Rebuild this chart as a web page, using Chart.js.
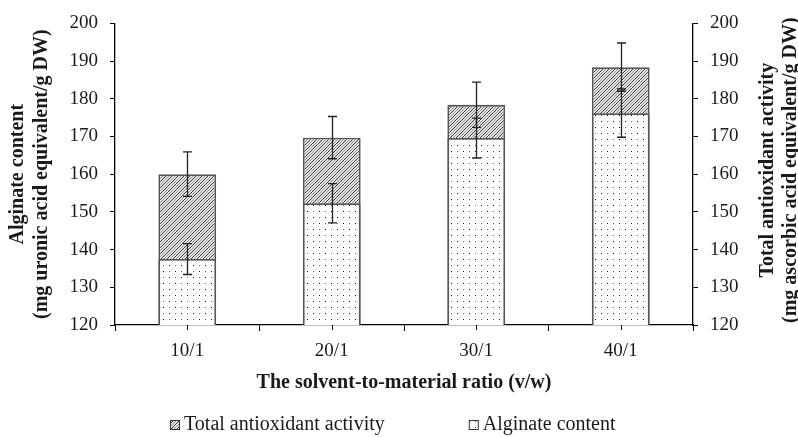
<!DOCTYPE html>
<html>
<head>
<meta charset="utf-8">
<script src="https://cdn.jsdelivr.net/npm/chart.js@4.4.0/dist/chart.umd.min.js"></script>
<style>
  html, body { margin: 0; padding: 0; background: #fff; }
</style>
</head>
<body>
<canvas id="chart" width="798" height="437"></canvas>
<script>
const ratios = ['10/1', '20/1', '30/1', '40/1'];
const alginate = [137.5, 152.3, 169.6, 176.2];
const alginateErr = [4.1, 5.2, 5.3, 6.4];
const antioxidant = [160.0, 169.7, 178.4, 188.4];
const antioxidantErr = [5.9, 5.6, 6.0, 6.4];
const yMin = 120, yMax = 200;

const serif = 'Liberation Serif';

// fill patterns like the excel ones
function makeTile(size, paint) {
  const c = document.createElement('canvas');
  c.width = size; c.height = size;
  const g = c.getContext('2d');
  const img = g.createImageData(size, size);
  for (let y = 0; y < size; y++) {
    for (let x = 0; x < size; x++) {
      const v = paint(x, y);
      const k = (y * size + x) * 4;
      img.data[k] = v; img.data[k + 1] = v; img.data[k + 2] = v; img.data[k + 3] = 255;
    }
  }
  g.putImageData(img, 0, 0);
  return g.createPattern(c, 'repeat');
}
const hatch = makeTile(6, (x, y) => {
  const d = (x + y) % 6;
  if (d === 5) return 50;
  if (d === 2) return 140;
  return 232;
});
const dots = makeTile(12, (x, y) => {
  if ((x === 1 && y === 1) || (x === 7 && y === 7)) return 10;
  if ((x === 7 && y === 1) || (x === 1 && y === 7)) return 110;
  return 255;
});

const extras = {
  id: 'extras',
  afterDatasetsDraw(chart) {
    const ctx = chart.ctx;
    const xs = chart.scales.x;
    ctx.save();
    ctx.strokeStyle = '#000';
    ctx.lineWidth = 1;
    // small ticks under each category
    ratios.forEach((r, i) => {
      const px = Math.round(xs.getPixelForValue(i)) + 0.5;
      ctx.beginPath();
      ctx.moveTo(px, xs.top);
      ctx.lineTo(px, xs.top + 5);
      ctx.stroke();
    });
    // error bars
    ctx.strokeStyle = '#222';
    ctx.lineWidth = 1.3;
    chart.data.datasets.forEach((ds, di) => {
      const meta = chart.getDatasetMeta(di);
      const ys = chart.scales[meta.yAxisID];
      meta.data.forEach((bar, i) => {
        const v = ds.data[i], e = ds.errors[i];
        const t = ys.getPixelForValue(v + e);
        const b = ys.getPixelForValue(v - e);
        const px = Math.round(bar.x) + 0.5;
        ctx.beginPath();
        ctx.moveTo(px, t); ctx.lineTo(px, b);
        ctx.moveTo(px - 4.5, t); ctx.lineTo(px + 4.5, t);
        ctx.moveTo(px - 4.5, b); ctx.lineTo(px + 4.5, b);
        ctx.stroke();
      });
    });
    ctx.restore();
  },
  afterDraw(chart) {
    const ctx = chart.ctx;
    const area = chart.chartArea;
    ctx.save();
    ctx.fillStyle = '#1a1a1a';
    // right axis title, reads bottom to top
    ctx.font = 'bold 20px "' + serif + '"';
    ctx.textAlign = 'center';
    ctx.textBaseline = 'middle';
    const cy = (area.top + area.bottom) / 2 - 4;
    [['Total antioxidant activity', 768], ['(mg ascorbic acid equivalent/g DW)', 791]].forEach(([txt, cx]) => {
      ctx.save();
      ctx.translate(cx, cy);
      ctx.rotate(-Math.PI / 2);
      ctx.fillText(txt, 0, 0);
      ctx.restore();
    });
    // legend
    ctx.font = '20px "' + serif + '"';
    ctx.textAlign = 'left';
    const items = [chart.data.datasets[0], chart.data.datasets[1]];
    const box = 10, gapIn = 4, gapOut = 84;
    let x = 170;
    const ly = 425;
    items.forEach(ds => {
      ctx.fillStyle = ds.backgroundColor;
      ctx.fillRect(x, ly - box / 2, box, box);
      ctx.strokeStyle = '#333';
      ctx.lineWidth = 1;
      ctx.strokeRect(x + 0.5, ly - box / 2 + 0.5, box - 1, box - 1);
      ctx.fillStyle = '#1a1a1a';
      ctx.fillText(ds.label, x + box + gapIn, ly);
      x += box + gapIn + ctx.measureText(ds.label).width + gapOut;
    });
    ctx.restore();
  }
};

new Chart(document.getElementById('chart'), {
  type: 'bar',
  data: {
    labels: ratios,
    datasets: [{
      label: 'Total antioxidant activity',
      data: antioxidant,
      errors: antioxidantErr,
      yAxisID: 'y2',
      backgroundColor: hatch,
      borderColor: '#555',
      borderWidth: 1.8,
      grouped: false,
      order: 2
    }, {
      label: 'Alginate content',
      data: alginate,
      errors: alginateErr,
      yAxisID: 'y',
      backgroundColor: dots,
      borderColor: '#555',
      borderWidth: 1.8,
      grouped: false,
      order: 1
    }]
  },
  options: {
    responsive: false,
    animation: false,
    layout: { padding: { top: 17, bottom: 40, left: 0, right: 0 } },
    datasets: { bar: { categoryPercentage: 1, barPercentage: 0.4 } },
    plugins: { legend: { display: false }, tooltip: { enabled: false } },
    scales: {
      x: {
        offset: true,
        grid: { offset: true, drawOnChartArea: false, color: '#000', tickLength: 6 },
        border: { color: '#000', width: 1.3 },
        ticks: { color: '#1a1a1a', font: { family: serif, size: 19 }, padding: 9 },
        title: {
          display: true,
          text: 'The solvent-to-material ratio (v/w)',
          color: '#1a1a1a',
          font: { family: serif, size: 20, weight: 'bold', lineHeight: 1.2 },
          padding: { top: 0, bottom: 2 }
        },
        afterFit(s) { s.height = 72; }
      },
      y: {
        position: 'left',
        min: yMin, max: yMax,
        grid: { drawOnChartArea: false, color: '#000', tickLength: 5 },
        border: { color: '#000', width: 1.3 },
        ticks: {
          stepSize: 5, padding: 12, color: '#1a1a1a',
          font: { family: serif, size: 19 },
          callback: v => (v % 10 === 0 ? v : '')
        },
        title: {
          display: true,
          text: ['Alginate content', '(mg uronic acid equivalent/g DW)'],
          color: '#1a1a1a',
          font: { family: serif, size: 20, weight: 'bold', lineHeight: 24 / 20 },
          padding: { top: 6, bottom: 0 }
        },
        afterFit(s) { s.width = 115; }
      },
      y2: {
        position: 'right',
        min: yMin, max: yMax,
        grid: { drawOnChartArea: false, color: '#000', tickLength: 5 },
        border: { color: '#000', width: 1.3 },
        ticks: {
          stepSize: 5, padding: 12, color: '#1a1a1a',
          font: { family: serif, size: 19 },
          callback: v => (v % 10 === 0 ? v : '')
        },
        afterFit(s) { s.width = 105; }
      }
    }
  },
  plugins: [extras]
});
</script>
</body>
</html>
